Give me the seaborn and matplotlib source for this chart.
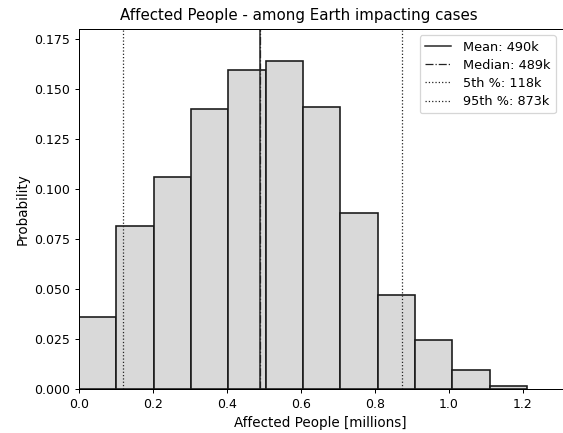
import numpy as np
import matplotlib
matplotlib.use("Agg")
import matplotlib.pyplot as plt
import seaborn as sns

# Histogram data (probability per bin)
bin_edges = [0.0, 0.1009, 0.2018, 0.3027, 0.4036, 0.5045, 0.6054,
             0.7063, 0.8072, 0.9081, 1.0090, 1.1099, 1.2108]
probabilities = [0.036, 0.0817, 0.1063, 0.140, 0.1598, 0.1642,
                 0.141, 0.088, 0.0473, 0.0247, 0.0098, 0.0018]

mean_val = 0.490
median_val = 0.489
p5_val = 0.118
p95_val = 0.873

labels = ["Mean: 490k", "Median: 489k", "5th %: 118k", "95th %: 873k"]

centers = [(bin_edges[i] + bin_edges[i + 1]) / 2 for i in range(len(probabilities))]

DPI = 90
fig = plt.figure(figsize=(563 / DPI, 433 / DPI), dpi=DPI)
ax = fig.add_axes([79 / 563, 1 - 389.3 / 433, (562.5 - 79) / 563, (389.3 - 29) / 433])

sns.histplot(x=centers, weights=probabilities, bins=bin_edges, ax=ax,
             color="#d9d9d9", edgecolor="#1a1a1a", linewidth=1.3, alpha=1.0)

ax.axvline(mean_val, color="#222222", linestyle="-", linewidth=1.2, label=labels[0])
ax.axvline(median_val, color="#222222", linestyle="-.", linewidth=1.0, label=labels[1])
ax.axvline(p5_val, color="#222222", linestyle=":", linewidth=1.0, label=labels[2])
ax.axvline(p95_val, color="#222222", linestyle=":", linewidth=1.0, label=labels[3])

ax.set_xlim(0, 1.307)
ax.set_ylim(0, 0.1802)
ax.set_yticks([0.0, 0.025, 0.05, 0.075, 0.1, 0.125, 0.15, 0.175])
ax.set_yticklabels(["0.000", "0.025", "0.050", "0.075", "0.100", "0.125", "0.150", "0.175"])
ax.set_xticks([0.0, 0.2, 0.4, 0.6, 0.8, 1.0, 1.2])
ax.set_xticklabels(["0.0", "0.2", "0.4", "0.6", "0.8", "1.0", "1.2"])

ax.set_title("Affected People - among Earth impacting cases", fontsize=12, x=0.454, pad=7)
ax.set_xlabel("Affected People [millions]", fontsize=10.8)
ax.set_ylabel("Probability", fontsize=10.8)
ax.tick_params(labelsize=10)
ax.legend(loc="upper right", fontsize=10.3, labelspacing=0.4, handletextpad=1.0)

fig.savefig("out.png", dpi=DPI)
